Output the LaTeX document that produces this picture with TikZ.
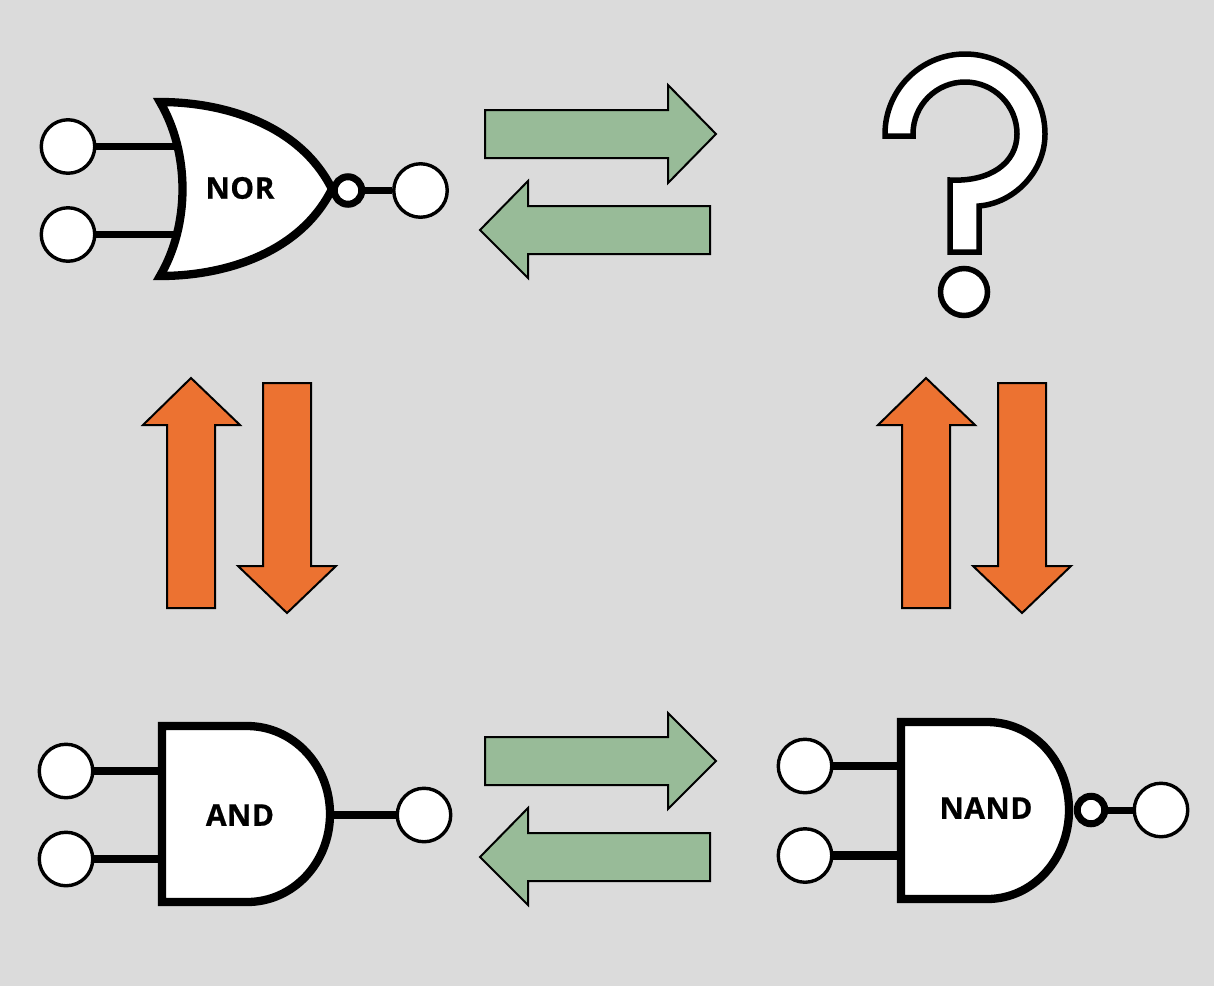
\documentclass[tikz,border=0pt]{standalone}
\usepackage{fontspec}
\setmainfont{Open Sans}
\newfontfamily\gatefont[FakeBold=0.6,LetterSpace=1.5]{Open Sans Bold}
\definecolor{bgc}{HTML}{DBDBDB}
\definecolor{grn}{HTML}{98BB98}
\definecolor{org}{HTML}{EC7231}
\tikzset{
  pin/.style={circle,draw=black,fill=white,line width=3.4pt,minimum size=53.5pt,inner sep=0pt},
  bubble/.style={circle,draw=black,fill=white,line width=7pt,minimum size=27.5pt,inner sep=0pt},
  wire/.style={line width=7.5pt,draw=black},
  gatebody/.style={draw=black,fill=white,line width=8.3pt,miter limit=10},
  gatelabel/.style={font=\fontsize{30}{31}\gatefont,text=black,inner sep=0pt},
  arrowg/.style={draw=black,fill=grn,line width=2pt,miter limit=10},
  arrowo/.style={draw=black,fill=org,line width=2pt,miter limit=10},
  qmark/.style={draw=black,fill=white,line width=5.5pt,miter limit=10}
}
\begin{document}
\begin{tikzpicture}[x=1pt,y=-1pt]
\path[use as bounding box,fill=bgc] (0,0) rectangle (1214,986);

% NOR
\node[pin] (norA) at (68,146.5) {};
\node[pin] (norB) at (68,234.5) {};
\node[pin] (norO) at (420.5,190.5) {};
\coordinate (norA1) at (178,146.5);
\coordinate (norB1) at (178,234.5);
\draw[wire] (norA) -- (norA1);
\draw[wire] (norB) -- (norB1);
\draw[gatebody] (160,102) .. controls (225,102) and (300,125) .. (332,189)
  .. controls (300,253) and (225,276) .. (160,276)
  .. controls (190,225) and (190,153) .. cycle;
\node[bubble] (norN) at (348,190.5) {};
\draw[wire,line width=7pt] (norN) -- (norO);
\node[gatelabel] (norT) at (240,188) {NOR};

% AND
\node[pin] (andA) at (66,771) {};
\node[pin] (andB) at (66,859) {};
\node[pin] (andO) at (424,815) {};
\coordinate (andA1) at (163,771);
\coordinate (andB1) at (163,859);
\coordinate (andO1) at (328,815);
\draw[wire] (andA) -- (andA1);
\draw[wire] (andB) -- (andB1);
\draw[wire] (andO1) -- (andO);
\draw[gatebody] (162,726) -- (247,726) .. controls (293,726) and (330,765) .. (330,814)
  .. controls (330,863) and (293,902) .. (247,902) -- (162,902) -- cycle;
\node[gatelabel] (andT) at (240,815) {AND};

% NAND
\node[pin] (nandA) at (805,766) {};
\node[pin] (nandB) at (805,855.5) {};
\node[pin] (nandO) at (1161,810) {};
\coordinate (nandA1) at (904,766);
\coordinate (nandB1) at (904,855.5);
\draw[wire] (nandA) -- (nandA1);
\draw[wire,line width=9.5pt] (nandB) -- (nandB1);
\draw[gatebody] (901,722) -- (987,722) .. controls (1033,722) and (1069,761) .. (1069,810)
  .. controls (1069,859) and (1033,899) .. (987,899) -- (901,899) -- cycle;
\node[bubble] (nandN) at (1091,810) {};
\draw[wire,line width=7pt] (nandN) -- (nandO);
\node[gatelabel] (nandT) at (986,808) {NAND};

% Question mark
\draw[qmark] (885,136) -- (885,134) arc[start angle=180,end angle=0,radius=80pt]
  .. controls (1045,172) and (1014,203) .. (979,206)
  -- (979,252) -- (950,252) -- (950,180)
  .. controls (990,182) and (1017,163) .. (1017,134)
  arc[start angle=0,end angle=180,radius=52pt] -- (913,136) -- cycle;
\node[circle,draw=black,fill=white,line width=5.5pt,minimum size=47pt,inner sep=0pt] (qdot) at (964,292) {};

% Green arrows
\draw[arrowg] (485,110) -- (668,110) -- (668,85) -- (716,134) -- (668,183) -- (668,158) -- (485,158) -- cycle;
\draw[arrowg] (710,206) -- (528,206) -- (528,181) -- (480,230) -- (528,278) -- (528,254) -- (710,254) -- cycle;
\draw[arrowg] (485,737) -- (668,737) -- (668,713) -- (716,761) -- (668,809) -- (668,785) -- (485,785) -- cycle;
\draw[arrowg] (710,833) -- (528,833) -- (528,808) -- (480,857) -- (528,905) -- (528,881) -- (710,881) -- cycle;

% Orange arrows
\draw[arrowo] (167,608) -- (167,425) -- (143,425) -- (191,378) -- (240,425) -- (215,425) -- (215,608) -- cycle;
\draw[arrowo] (263,383) -- (263,566) -- (238,566) -- (287,613) -- (336,566) -- (311,566) -- (311,383) -- cycle;
\draw[arrowo] (902,608) -- (902,425) -- (878,425) -- (926,378) -- (975,425) -- (950,425) -- (950,608) -- cycle;
\draw[arrowo] (998,383) -- (998,566) -- (973,566) -- (1022,613) -- (1071,566) -- (1046,566) -- (1046,383) -- cycle;
\end{tikzpicture}
\end{document}
